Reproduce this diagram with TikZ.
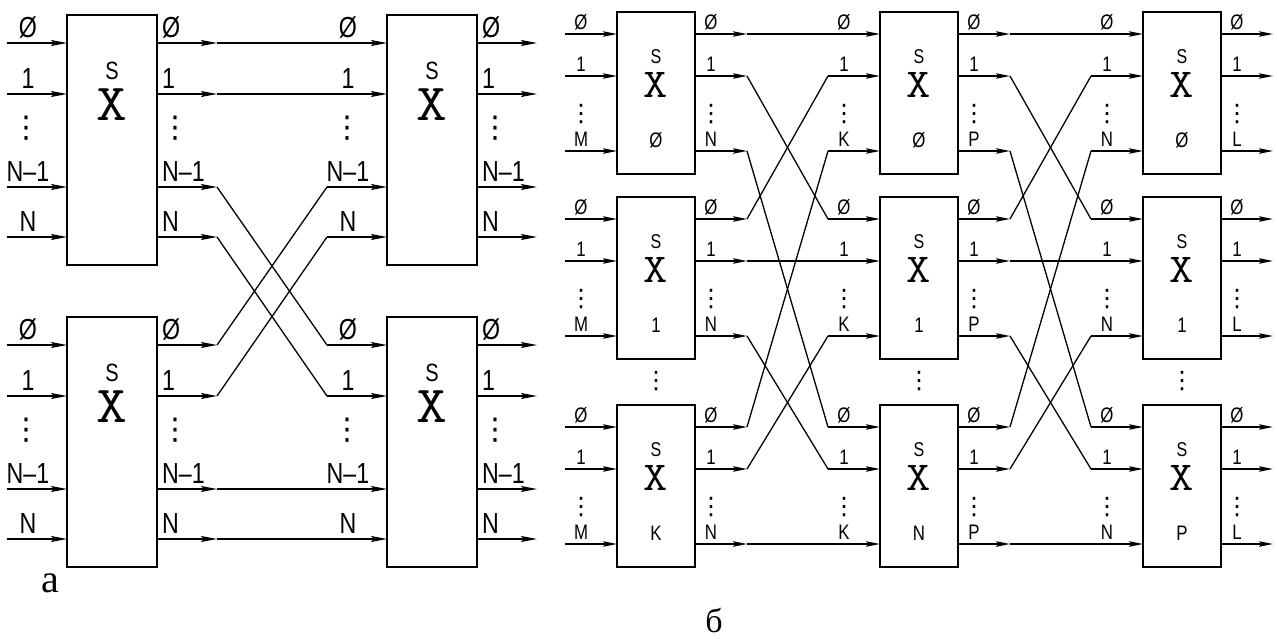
\documentclass[tikz,border=0pt]{standalone}
\usepackage{fontspec}
\usepackage{graphicx}
\usetikzlibrary{arrows.meta,calc}
\newfontfamily\cad[FakeStretch=0.8]{Liberation Sans}
\newfontfamily\dotsf{DejaVu Sans}
\newfontfamily\capt{Liberation Serif}
\newcommand\swx{\scalebox{1.15}[1]{X}}
\tikzset{
  swbox/.style={draw, line width=1.7pt, inner sep=0pt, outer sep=0pt},
  wire/.style={line width=1.3pt},
  arra/.style={wire, -{Stealth[length=16pt,width=6pt,inset=3pt]}},
  arrb/.style={wire, -{Stealth[length=14pt,width=5.5pt,inset=2.5pt]}},
  laba/.style={font=\cad\fontsize{29}{29}\selectfont, inner sep=0pt, text height=21pt, text depth=0pt},
  labb/.style={font=\cad\fontsize{21}{21}\selectfont, inner sep=0pt, text height=15pt, text depth=0pt},
  dota/.style={font=\dotsf\fontsize{30}{30}\selectfont, inner sep=0pt},
  dotb/.style={font=\dotsf\fontsize{24}{24}\selectfont, inner sep=0pt},
  sa/.style={font=\cad\fontsize{25}{25}\selectfont, inner sep=0pt, text height=18pt, text depth=0pt},
  sb/.style={font=\cad\fontsize{20}{20}\selectfont, inner sep=0pt, text height=14pt, text depth=0pt},
  xa/.style={font=\ttfamily\fontsize{52}{52}\selectfont, inner sep=0pt, text height=32pt, text depth=0pt},
  xb/.style={font=\ttfamily\fontsize{41}{41}\selectfont, inner sep=0pt, text height=25pt, text depth=0pt},
  capstyle/.style={font=\capt, inner sep=0pt}
}
\begin{document}
\begin{tikzpicture}[x=1pt,y=-1pt]
\useasboundingbox (0,0) rectangle (1277,640);
% ---------------- part a ----------------
\foreach \nm/\lx/\ty in {A1/67/15, A2/387/15, A3/67/317, A4/387/317}{
  \node[swbox, minimum width=90pt, minimum height=250pt] (\nm) at (\lx+45,\ty+125) {};
  \node[sa] (\nm-S) at (\lx+45,\ty+55) {S};
  \node[xa] (\nm-X) at (\lx+45,\ty+89) {\swx};
  \foreach \r/\k/\txt in {28/1/Ø, 79/2/1, 172/3/N–1, 222/4/N}{
    \coordinate (\nm-s\k) at (\lx-60,\ty+\r);
    \coordinate (\nm-i\k) at (\lx,\ty+\r);
    \coordinate (\nm-o\k) at (\lx+90,\ty+\r);
    \coordinate (\nm-t\k) at (\lx+150,\ty+\r);
    \draw[arra] (\nm-s\k) -- (\nm-i\k);
    \draw[arra] (\nm-o\k) -- (\nm-t\k);
    \node[laba, anchor=base] (\nm-il\k) at (\lx-39,\ty+\r-6) {\txt};
    \node[laba, anchor=base west] (\nm-ol\k) at (\lx+95,\ty+\r-6) {\txt};
  }
  \node[dota] (\nm-id) at (\lx-40,\ty+113) {⋮};
  \node[dota] (\nm-od) at (\lx+108,\ty+113) {⋮};
}
\draw[wire] (A1-t1) -- (A2-s1);
\draw[wire] (A1-t2) -- (A2-s2);
\draw[wire] (A1-t3) -- (A4-s1);
\draw[wire] (A1-t4) -- (A4-s2);
\draw[wire] (A3-t1) -- (A2-s3);
\draw[wire] (A3-t2) -- (A2-s4);
\draw[wire] (A3-t3) -- (A4-s3);
\draw[wire] (A3-t4) -- (A4-s4);
\node[capstyle, font=\capt\fontsize{40}{40}\selectfont] (capa) at (50,583) {а};
% ---------------- part b ----------------
\foreach \c/\lx/\inl/\outl/\lastix in {1/617/M/N/K, 2/880/K/P/N, 3/1143/N/L/P}{
  \foreach \b/\ty/\idx in {1/12/Ø, 2/197/1, 3/405/\lastix}{
    \node[swbox, minimum width=78pt, minimum height=162pt] (B\c\b) at (\lx+39,\ty+81) {};
    \node[sb] (B\c\b-S) at (\lx+39,\ty+44) {S};
    \node[xb] (B\c\b-X) at (\lx+39,\ty+73) {\swx};
    \node[labb] (B\c\b-n) at (\lx+39,\ty+128) {\idx};
    \foreach \r/\k/\ti/\to in {22/1/Ø/Ø, 64/2/1/1, 139/3/\inl/\outl}{
      \coordinate (B\c\b-s\k) at (\lx-52,\ty+\r);
      \coordinate (B\c\b-i\k) at (\lx,\ty+\r);
      \coordinate (B\c\b-o\k) at (\lx+78,\ty+\r);
      \coordinate (B\c\b-t\k) at (\lx+130,\ty+\r);
      \draw[arrb] (B\c\b-s\k) -- (B\c\b-i\k);
      \draw[arrb] (B\c\b-o\k) -- (B\c\b-t\k);
      \node[labb, anchor=base] (B\c\b-il\k) at (\lx-36,\ty+\r-5) {\ti};
      \node[labb, anchor=base] (B\c\b-ol\k) at (\lx+94,\ty+\r-5) {\to};
    }
    \node[dotb] (B\c\b-id) at (\lx-36,\ty+102) {⋮};
    \node[dotb] (B\c\b-od) at (\lx+94,\ty+102) {⋮};
  }
  \node[dotb] (B\c-gap) at (\lx+39,381) {⋮};
}
\foreach \c/\d in {1/2, 2/3}{
  \foreach \i in {1,2,3}{
    \foreach \j in {1,2,3}{
      \draw[wire] (B\c\i-t\j) -- (B\d\j-s\i);
    }
  }
}
\node[capstyle, font=\capt\fontsize{34}{34}\selectfont] (capb) at (714,620) {б};
\end{tikzpicture}
\end{document}
